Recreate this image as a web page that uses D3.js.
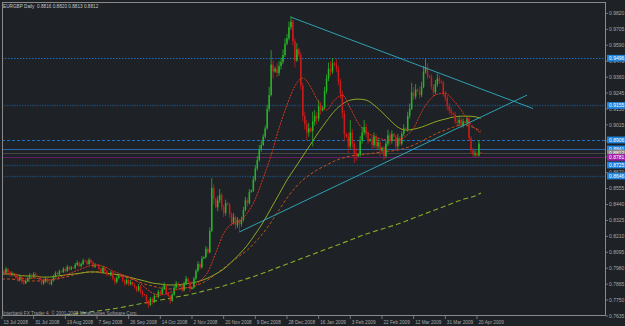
<!DOCTYPE html>
<html><head><meta charset="utf-8">
<script src="https://cdn.jsdelivr.net/npm/d3@7"></script>
<style>html,body{margin:0;padding:0;background:#1e2126;}svg{display:block}</style>
</head><body><svg id="c" width="625" height="326"></svg>
<script>
const headerText = "EURGBP Daily  0.8816 0.8820 0.8813 0.8812";
const copyrightText = "Interbank FX Trader 4, \u00a9 2001-2008 MetaQuotes Software Corp.";
const dateLabels = ["13 Jul 2008","31 Jul 2008","19 Aug 2008","7 Sep 2008","26 Sep 2008","14 Oct 2008","2 Nov 2008","20 Nov 2008","9 Dec 2008","28 Dec 2008","16 Jan 2009","3 Feb 2009","22 Feb 2009","12 Mar 2009","31 Mar 2009","20 Apr 2009"];
const dateLabelBars = [0,16,32,48,64,80,96,112,128,144,160,176,192,208,224,240];
const priceTicks = ["0.9820","0.9705","0.9590","0.9475","0.9360","0.9245","0.9130","0.9015","0.8900","0.8785","0.8670","0.8555","0.8440","0.8325","0.8210","0.8095","0.7980","0.7865","0.7750","0.7635"];

const opens = [.7950,.7960,.7948,.7975,.7952,.7930,.7945,.7938,.7912,.7895,
.7920,.7885,.7870,.7890,.7905,.7930,.7915,.7940,.7925,.7918,
.7895,.7870,.7882,.7905,.7880,.7865,.7890,.7920,.7945,.7935,
.7958,.7952,.7975,.7960,.7990,.7972,.7985,.7980,.8005,.8020,
.7995,.8010,.8035,.8030,.8010,.8040,.8025,.7990,.8005,.8000,
.7975,.7950,.7985,.7960,.7935,.7930,.7950,.7905,.7880,.7910,
.7925,.7920,.7890,.7870,.7895,.7865,.7880,.7860,.7845,.7820,
.7850,.7810,.7790,.7785,.7740,.7715,.7760,.7735,.7780,.7772,
.7810,.7795,.7830,.7860,.7800,.7780,.7745,.7790,.7840,.7870,
.7850,.7855,.7820,.7870,.7905,.7880,.7830,.7840,.7905,.7960,
.8010,.7985,.8050,.8060,.8120,.8095,.8250,.8560,.8480,.8420,
.8470,.8510,.8420,.8380,.8450,.8440,.8370,.8310,.8350,.8290,
.8330,.8300,.8330,.8400,.8470,.8450,.8530,.8540,.8620,.8700,
.8760,.8840,.8870,.8930,.8990,.9130,.9230,.9450,.9400,.9420,
.9390,.9440,.9470,.9520,.9600,.9640,.9720,.9760,.9620,.9480,
.9560,.9520,.9300,.9080,.9020,.8960,.8990,.8970,.9040,.9080,
.9060,.9150,.9120,.9140,.9260,.9350,.9420,.9400,.9460,.9450,
.9420,.9330,.9240,.9100,.8950,.8930,.8860,.8960,.8880,.8810,
.8790,.8800,.8900,.8960,.9000,.8950,.8900,.8910,.8870,.8930,
.8860,.8890,.8830,.8850,.8790,.8880,.8940,.8900,.8950,.8930,
.8860,.8920,.8880,.8950,.8990,.8980,.9080,.9130,.9250,.9220,
.9270,.9260,.9230,.9290,.9400,.9430,.9370,.9360,.9290,.9250,
.9310,.9350,.9330,.9320,.9240,.9210,.9150,.9120,.9100,.9090,
.9040,.9030,.9050,.9010,.9040,.9030,.9060,.8920,.8830,.8800,
.8810,.8795,.8816];
const highs = [.7978,.7972,.7990,.7982,.7961,.7958,.7949,.7946,.7925,.7932,
.7928,.7898,.7894,.7918,.7945,.7940,.7952,.7950,.7930,.7926,
.7902,.7895,.7918,.7912,.7884,.7900,.7932,.7958,.7955,.7970,
.7962,.7988,.7985,.8004,.7998,.7996,.7990,.8018,.8036,.8028,
.8022,.8050,.8040,.8042,.8055,.8048,.8032,.8018,.8010,.8012,
.7985,.7998,.7992,.7968,.7940,.7962,.7958,.7915,.7922,.7940,
.7930,.7928,.7898,.7908,.7902,.7895,.7885,.7872,.7852,.7866,
.7858,.7822,.7795,.7792,.7752,.7772,.7768,.7795,.7784,.7825,
.7822,.7848,.7878,.7866,.7805,.7788,.7802,.7855,.7888,.7880,
.7860,.7866,.7885,.7925,.7915,.7888,.7846,.7918,.7975,.8030,
.8024,.8068,.8066,.8140,.8135,.8275,.8630,.8585,.8490,.8500,
.8552,.8525,.8440,.8475,.8458,.8452,.8385,.8378,.8360,.8348,
.8336,.8352,.8422,.8495,.8488,.8552,.8548,.8645,.8725,.8790,
.8870,.8905,.8950,.9010,.9160,.9290,.9556,.9480,.9435,.9460,
.9475,.9500,.9560,.9640,.9672,.9760,.9800,.9775,.9640,.9606,
.9572,.9540,.9320,.9110,.9050,.9030,.8998,.9110,.9122,.9105,
.9195,.9180,.9150,.9290,.9380,.9465,.9475,.9498,.9470,.9490,
.9440,.9350,.9260,.9120,.8960,.8960,.9050,.8985,.8895,.8850,
.8810,.8935,.9000,.9050,.9025,.8970,.8918,.8935,.8960,.8945,
.8920,.8905,.8858,.8862,.8905,.8980,.8960,.8975,.8958,.8945,
.8950,.8935,.8968,.9020,.8998,.9110,.9170,.9320,.9290,.9310,
.9278,.9295,.9325,.9440,.9490,.9460,.9376,.9380,.9310,.9340,
.9385,.9372,.9336,.9335,.9260,.9230,.9170,.9145,.9105,.9110,
.9065,.9075,.9068,.9062,.9045,.9080,.9075,.8935,.8850,.8832,
.8825,.8906,.8820];
const lows = [.7938,.7935,.7940,.7944,.7918,.7922,.7934,.7900,.7880,.7885,
.7866,.7858,.7866,.7880,.7898,.7902,.7908,.7912,.7914,.7884,
.7858,.7860,.7875,.7870,.7860,.7855,.7884,.7912,.7925,.7928,
.7948,.7945,.7948,.7952,.7962,.7965,.7976,.7972,.7996,.7985,
.7984,.8002,.8026,.8000,.8004,.8012,.7978,.7982,.7996,.7964,
.7938,.7944,.7950,.7922,.7926,.7920,.7892,.7862,.7870,.7900,
.7915,.7878,.7852,.7862,.7850,.7855,.7855,.7832,.7805,.7812,
.7795,.7772,.7780,.7722,.7693,.7705,.7718,.7728,.7766,.7762,
.7780,.7788,.7822,.7785,.7774,.7722,.7736,.7780,.7832,.7836,
.7846,.7806,.7812,.7860,.7864,.7808,.7826,.7832,.7895,.7950,
.7968,.7978,.8046,.8050,.8078,.8088,.8240,.8440,.8412,.8390,
.8450,.8395,.8350,.8360,.8432,.8345,.8285,.8295,.8262,.8270,
.8242,.8280,.8318,.8390,.8425,.8440,.8525,.8530,.8605,.8685,
.8750,.8820,.8862,.8915,.8980,.9110,.9220,.9350,.9392,.9360,
.9370,.9415,.9455,.9505,.9590,.9625,.9700,.9590,.9430,.9470,
.9505,.9270,.9040,.8980,.8906,.8930,.8960,.8860,.9010,.9020,
.9040,.9090,.9112,.9125,.9240,.9330,.9370,.9385,.9440,.9395,
.9300,.9205,.9060,.8900,.8920,.8812,.8840,.8850,.8740,.8755,
.8782,.8785,.8880,.8940,.8925,.8880,.8895,.8840,.8850,.8830,
.8835,.8790,.8825,.8761,.8775,.8860,.8870,.8880,.8925,.8830,
.8840,.8860,.8865,.8935,.8972,.8965,.9060,.9120,.9195,.9200,
.9252,.9205,.9215,.9280,.9385,.9345,.9352,.9270,.9220,.9235,
.9290,.9310,.9314,.9220,.9185,.9120,.9095,.9075,.9085,.9020,
.9005,.9010,.8990,.8995,.9025,.9010,.8900,.8805,.8783,.8785,
.8783,.8785,.8812];
const closes = [.7960,.7948,.7975,.7952,.7930,.7945,.7938,.7912,.7895,.7920,
.7885,.7870,.7890,.7905,.7930,.7915,.7940,.7925,.7918,.7895,
.7870,.7882,.7905,.7880,.7865,.7890,.7920,.7945,.7935,.7958,
.7952,.7975,.7960,.7990,.7972,.7985,.7980,.8005,.8020,.7995,
.8010,.8035,.8030,.8010,.8040,.8025,.7990,.8005,.8000,.7975,
.7950,.7985,.7960,.7935,.7930,.7950,.7905,.7880,.7910,.7925,
.7920,.7890,.7870,.7895,.7865,.7880,.7860,.7845,.7820,.7850,
.7810,.7790,.7785,.7740,.7715,.7760,.7735,.7780,.7772,.7810,
.7795,.7830,.7860,.7800,.7780,.7745,.7790,.7840,.7870,.7850,
.7855,.7820,.7870,.7905,.7880,.7830,.7840,.7905,.7960,.8010,
.7985,.8050,.8060,.8120,.8095,.8250,.8560,.8480,.8420,.8470,
.8510,.8420,.8380,.8450,.8440,.8370,.8310,.8350,.8290,.8330,
.8300,.8330,.8400,.8470,.8450,.8530,.8540,.8620,.8700,.8760,
.8840,.8870,.8930,.8990,.9130,.9230,.9450,.9400,.9420,.9390,
.9440,.9470,.9520,.9600,.9640,.9720,.9760,.9620,.9480,.9560,
.9520,.9300,.9080,.9020,.8960,.8990,.8970,.9040,.9080,.9060,
.9150,.9120,.9140,.9260,.9350,.9420,.9400,.9460,.9450,.9420,
.9330,.9240,.9100,.8950,.8930,.8860,.8960,.8880,.8810,.8790,
.8800,.8900,.8960,.9000,.8950,.8900,.8910,.8870,.8930,.8860,
.8890,.8830,.8850,.8790,.8880,.8940,.8900,.8950,.8930,.8860,
.8920,.8880,.8950,.8990,.8980,.9080,.9130,.9250,.9220,.9270,
.9260,.9230,.9290,.9400,.9430,.9370,.9360,.9290,.9250,.9310,
.9350,.9330,.9320,.9240,.9210,.9150,.9120,.9100,.9090,.9040,
.9030,.9050,.9010,.9040,.9030,.9060,.8920,.8830,.8800,.8810,
.8795,.8880,.8812];

const maBars = [0,4,8,12,16,20,24,28,32,36,40,44,48,52,56,60,64,68,72,76,80,84,88,92,96,100,104,108,112,116,120,124,128,132,136,140,144,148,152,156,160,164,168,172,176,180,184,188,192,196,200,204,208,212,216,220,224,228,232,236,240,242];
const maFast = [.7953,.7938,.7916,.7902,.7909,.7902,.7895,.7909,.7931,.7953,.7974,.7996,.8003,.7989,.7960,.7938,.7916,.7888,.7844,.7801,.7787,.7801,.7823,.7837,.7844,.7888,.7953,.8090,.8230,.8300,.8320,.8380,.8480,.8631,.8797,.8992,.9158,.9295,.9353,.9288,.9179,.9122,.9194,.9230,.9136,.9028,.8963,.8934,.8912,.8905,.8905,.8934,.8992,.9107,.9194,.9237,.9244,.9194,.9122,.9035,.8977,.8956];
const maMid = [.7902,.7902,.7895,.7888,.7888,.7888,.7895,.7902,.7916,.7931,.7945,.7953,.7953,.7945,.7938,.7924,.7909,.7888,.7866,.7852,.7837,.7830,.7830,.7837,.7844,.7866,.7895,.7938,.7981,.8025,.8068,.8111,.8169,.8234,.8313,.8400,.8487,.8559,.8617,.8660,.8696,.8725,.8754,.8775,.8790,.8797,.8804,.8811,.8819,.8826,.8833,.8848,.8869,.8898,.8927,.8956,.8977,.8999,.9013,.9006,.8985,.8970];
const maSlow = [.7938,.7938,.7931,.7924,.7924,.7916,.7916,.7924,.7931,.7938,.7945,.7953,.7953,.7945,.7938,.7931,.7916,.7902,.7888,.7873,.7866,.7859,.7859,.7866,.7873,.7888,.7909,.7938,.7974,.8025,.8082,.8147,.8227,.8313,.8414,.8515,.8617,.8703,.8790,.8876,.8963,.9042,.9115,.9165,.9194,.9201,.9194,.9158,.9107,.9050,.8999,.8977,.8984,.8999,.9021,.9042,.9057,.9071,.9078,.9078,.9071,.9064];
const ma200Bars = [28,32,40,48,56,64,72,80,88,96,104,112,120,128,136,144,152,160,168,176,184,192,200,208,216,224,232,240,242];
const ma200 = [.7635,.7642,.7657,.7671,.7686,.7707,.7729,.7750,.7772,.7794,.7823,.7852,.7888,.7924,.7967,.8010,.8054,.8097,.8140,.8183,.8227,.8263,.8299,.8342,.8386,.8429,.8472,.8508,.8523];

const upTrend = [[120, 0.8242], [265.3, 0.9230]];
const downTrend = [[146, 0.9793], [268.3, 0.9133]];
const levels = [0.9496, 0.9155, 0.8906, 0.8841, 0.8812, 0.8781, 0.8725, 0.8646];
const levelLabels = ["0.9496","0.9155","0.8906","0.8841","0.8812","0.8781","0.8725","0.8646"];
const levelKinds = ["blueDot","steelDot","blueDash","blueSolid","bid","purple","steelDot","steelDot"];

const W = 625, H = 326;
const L = 2, R = 606, T = 2, B = 316;
const svg = d3.select("#c");
svg.append("rect").attr("width", W).attr("height", H).attr("fill", "#1e2126");

const x = d3.scaleLinear().domain([0, 305.2]).range([L, R]);
const y = d3.scaleLinear().domain([0.7635, 0.9820]).range([B, 13.4]);

svg.append("clipPath").attr("id", "plot").append("rect")
  .attr("x", L).attr("y", T).attr("width", R - L).attr("height", B - T);

const plot = svg.append("g").attr("clip-path", "url(#plot)");

// horizontal levels
const levelStyle = {
  blueDot:   {c: "#1b6ec0", w: 1, d: "1.5,1.5"},
  steelDot:  {c: "#1c4566", w: 1.6, d: "1.5,1"},
  blueDash:  {c: "#1f6fc2", w: 1, d: "3,2"},
  blueSolid: {c: "#2a66ac", w: 1, d: null},
  bid:       {c: "#464646", w: 1, d: null},
  purple:    {c: "#641c68", w: 1, d: null}
};
levels.forEach((v, i) => {
  const s = levelStyle[levelKinds[i]];
  plot.append("line").attr("x1", L).attr("x2", R)
    .attr("y1", Math.round(y(v)) + 0.5).attr("y2", Math.round(y(v)) + 0.5)
    .attr("stroke", s.c).attr("stroke-width", s.w)
    .attr("stroke-dasharray", s.d);
});

// moving averages
function maLine(bars, vals, color, width, dash) {
  const pts = bars.map((b, i) => [x(b), y(vals[i])]);
  plot.append("path").attr("d", d3.line().curve(d3.curveMonotoneX)(pts))
    .attr("fill", "none").attr("stroke", color).attr("stroke-width", width)
    .attr("stroke-dasharray", dash);
}
maLine(ma200Bars, ma200, "#86ad26", 1.1, "5,3");
maLine(maBars, maMid, "#c2501c", 1, "3,2");
maLine(maBars, maSlow, "#8fa822", 1, null);

// candles
const bw = 1.5;
closes.forEach((c, i) => {
  const o = opens[i], up = c >= o;
  const col = up ? "#27b527" : "#cc1b1b";
  const cx = x(i);
  plot.append("line").attr("x1", cx).attr("x2", cx)
    .attr("y1", y(highs[i])).attr("y2", y(lows[i]))
    .attr("stroke", col).attr("stroke-width", 0.8);
  const top = y(Math.max(o, c)), bot = y(Math.min(o, c));
  plot.append("rect").attr("x", cx - bw / 2).attr("y", top)
    .attr("width", bw).attr("height", Math.max(0.7, bot - top)).attr("fill", col);
});

maLine(maBars, maFast, "#d9361e", 1, "2,1");

// trendlines
[upTrend, downTrend].forEach(t => {
  plot.append("line")
    .attr("x1", x(t[0][0])).attr("y1", y(t[0][1]))
    .attr("x2", x(t[1][0])).attr("y2", y(t[1][1]))
    .attr("stroke", "#2fa2b2").attr("stroke-width", 1);
});

// frame
svg.append("rect").attr("x", L + 0.5).attr("y", T + 0.5)
  .attr("width", R - L - 1).attr("height", B - T - 1)
  .attr("fill", "none").attr("stroke", "#8a8a8a").attr("stroke-width", 1);

const font = "'Liberation Sans', Arial, sans-serif";

// price axis ticks
priceTicks.forEach(t => {
  const v = +t, yy = y(v);
  svg.append("line").attr("x1", R).attr("x2", R + 2).attr("y1", yy).attr("y2", yy)
    .attr("stroke", "#8a8a8a").attr("stroke-width", 0.8);
  svg.append("text").attr("x", R + 3).attr("y", yy + 1.8)
    .attr("font-family", font).attr("font-size", 5).attr("fill", "#a9a9a9").text(t);
});

// level labels
const boxCol = {blueDot: "#1f84dc", steelDot: "#1f84dc", blueDash: "#1f84dc", blueSolid: "#1f84dc", bid: "#8a8a8a", purple: "#a21fa6"};
levels.forEach((v, i) => {
  const yy = y(v);
  svg.append("rect").attr("x", R + 1).attr("y", yy - 3.4).attr("width", W - R - 1).attr("height", 6.8)
    .attr("fill", boxCol[levelKinds[i]]);
  svg.append("text").attr("x", R + 3).attr("y", yy + 1.8)
    .attr("font-family", font).attr("font-size", 5).attr("fill", "#ffffff").text(levelLabels[i]);
});

// date axis
dateLabelBars.forEach((b, i) => {
  const xx = x(b);
  svg.append("line").attr("x1", xx).attr("x2", xx).attr("y1", B).attr("y2", B + 3)
    .attr("stroke", "#8a8a8a").attr("stroke-width", 0.8);
  svg.append("text").attr("x", xx + 1.5).attr("y", 324.2)
    .attr("font-family", font).attr("font-size", 4.7).attr("fill", "#a9a9a9").text(dateLabels[i]);
});

svg.append("text").attr("x", 3).attr("y", 7.8).attr("font-family", font)
  .attr("font-size", 4.7).attr("fill", "#c4c4c4").attr("xml:space", "preserve").text(headerText);
svg.append("text").attr("x", 3).attr("y", 314.6).attr("font-family", font)
  .attr("font-size", 4.7).attr("fill", "#a0a0a0").text(copyrightText);
</script>
</body></html>
